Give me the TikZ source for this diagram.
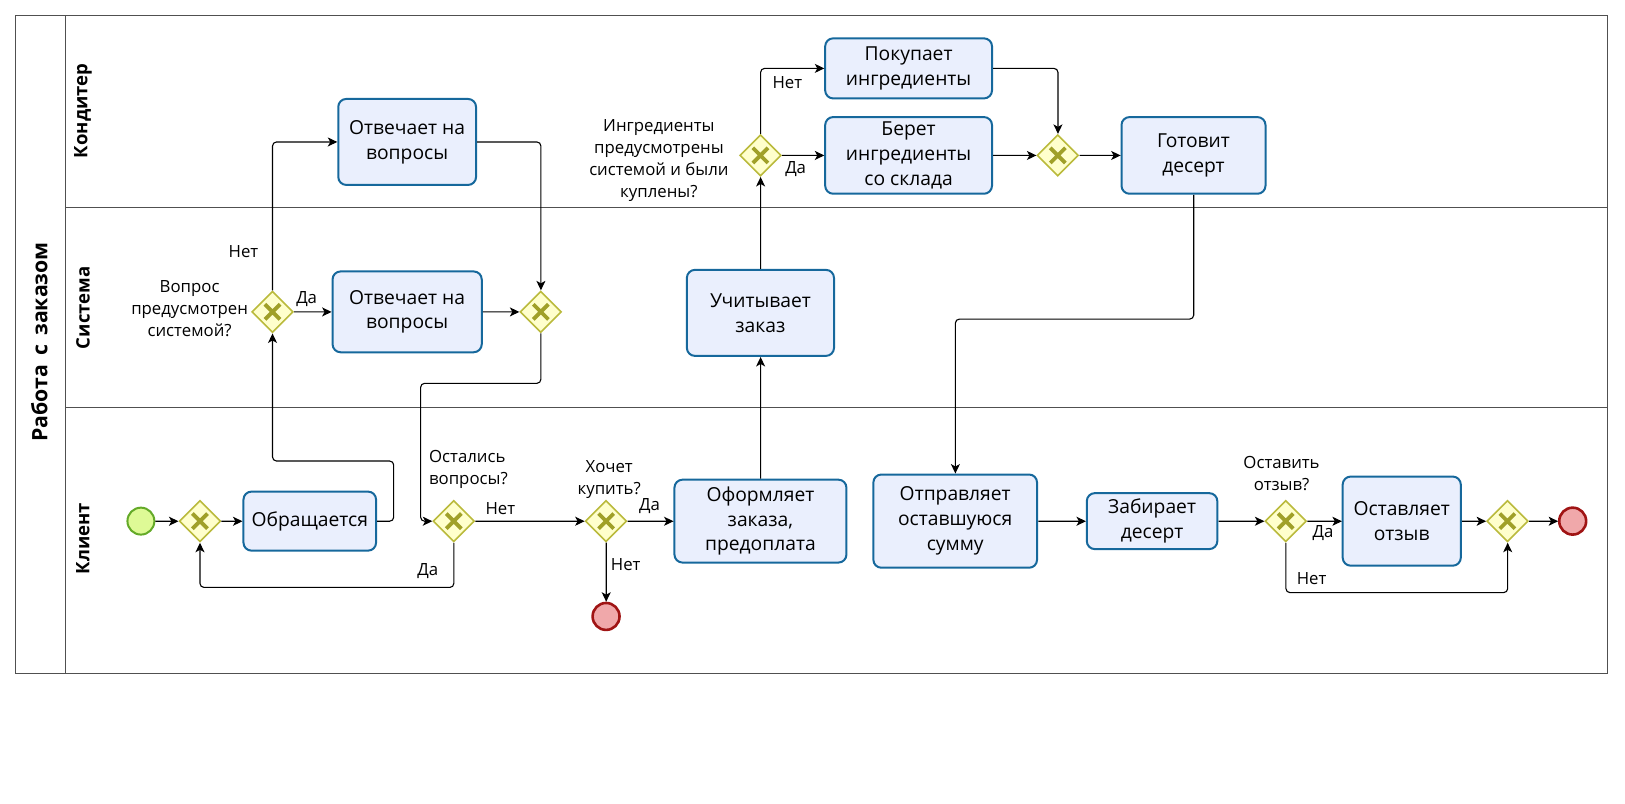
\documentclass[tikz,border=0pt]{standalone}
\usepackage{fontspec}
\setmainfont{Open Sans}
\usetikzlibrary{shapes.geometric,arrows.meta,calc}
\definecolor{taskfill}{RGB}{234,239,253}
\definecolor{taskdraw}{RGB}{22,104,156}
\definecolor{gwfill}{RGB}{255,255,204}
\definecolor{gwdraw}{RGB}{186,186,60}
\definecolor{gwx}{RGB}{160,160,40}
\definecolor{stfill}{RGB}{222,250,150}
\definecolor{stdraw}{RGB}{100,170,40}
\definecolor{enfill}{RGB}{240,168,170}
\definecolor{endraw}{RGB}{160,20,20}
\definecolor{lanecol}{RGB}{80,80,80}
\begin{document}
\begin{tikzpicture}[x=1pt,y=-1pt,scale=1.036,
  every node/.append style={transform shape},
  task/.style={draw=taskdraw, fill=taskfill, line width=2pt, rounded corners=8pt, align=center,
    font=\fontsize{18.6}{24}\selectfont, inner sep=2pt},
  gw/.style={diamond, draw=gwdraw, fill=gwfill, line width=1.6pt, minimum width=40pt, minimum height=40pt, inner sep=0pt,
    path picture={\draw[draw=gwx,line width=3.8pt]
      ([shift={(-7.3pt,-7.3pt)}]path picture bounding box.center) -- ([shift={(7.3pt,7.3pt)}]path picture bounding box.center)
      ([shift={(-7.3pt,7.3pt)}]path picture bounding box.center) -- ([shift={(7.3pt,-7.3pt)}]path picture bounding box.center);}},
  startev/.style={circle, draw=stdraw, fill=stfill, line width=2pt, minimum size=26pt, inner sep=0pt},
  endev/.style={circle, draw=endraw, fill=enfill, line width=2.6pt, minimum size=26pt, inner sep=0pt},
  flow/.style={draw=black, line width=1.1pt, rounded corners=4pt, -{Stealth[length=9.5pt,width=9pt,inset=2.5pt]}},
  lbl/.style={font=\fontsize{16.2}{21}\selectfont, align=center, inner sep=1pt},
  lane/.style={draw=lanecol, line width=1.1pt},
  lanelbl/.style={rotate=90, font=\fontsize{17.9}{22}\selectfont\bfseries}
]
\useasboundingbox (0,0) rectangle (1568.5,775.1);
% pool and lanes
\draw[lane] (15,15) rectangle (1552,650);
\draw[lane] (63,15) -- (63,650);
\draw[lane] (63,200) -- (1552,200);
\draw[lane] (63,393) -- (1552,393);
\node[rotate=90, font=\fontsize{20.5}{24}\selectfont\bfseries] (pool) at (38,330) {Работа\, с\, заказом};
\node[lanelbl] (l1) at (80,107) {Кондитер};
\node[lanelbl] (l2) at (80,297) {Система};
\node[lanelbl] (l3) at (80,520) {Клиент};

% client lane
\node[startev] (st) at (136,503) {};
\node[gw] (g1) at (193,503) {};
\node[task, minimum width=128pt, minimum height=57pt] (obr) at (299,503) {Обращается};
\node[gw] (g2) at (438,503) {};
\node[gw] (g3) at (585,503) {};
\node[endev] (e1) at (585,595) {};
\node[task, minimum width=166pt, minimum height=80pt] (ofo) at (734,503) {Оформляет\\заказа,\\предоплата};
\node[task, minimum width=158pt, minimum height=90pt] (otp) at (922,503) {Отправляет\\оставшуюся\\сумму};
\node[task, minimum width=126pt, minimum height=54pt] (zab) at (1112,503) {Забирает\\десерт};
\node[gw] (g6) at (1241,503) {};
\node[task, minimum width=114pt, minimum height=86pt] (ost) at (1353,503) {Оставляет\\отзыв};
\node[gw] (g7) at (1455,503) {};
\node[endev] (e2) at (1518,503) {};

% system lane
\node[gw] (gs1) at (263,301) {};
\node[task, minimum width=144pt, minimum height=78pt] (sq) at (393,301) {Отвечает на\\вопросы};
\node[gw] (gs2) at (522,301) {};
\node[task, minimum width=142pt, minimum height=83pt] (uch) at (734,302) {Учитывает\\заказ};

% confectioner lane
\node[task, minimum width=133pt, minimum height=83pt] (kq) at (393,137) {Отвечает на\\вопросы};
\node[gw] (g4) at (734,150) {};
\node[task, minimum width=161pt, minimum height=58pt] (pok) at (877,66) {Покупает\\ингредиенты};
\node[task, minimum width=161pt, minimum height=74pt] (ber) at (877,150) {Берет\\ингредиенты\\со склада};
\node[gw] (g5) at (1021,150) {};
\node[task, minimum width=139pt, minimum height=74pt] (got) at (1152,150) {Готовит\\десерт};

% flows
\draw[flow] (st) -- (g1);
\draw[flow] (g1) -- (obr);
\draw[flow] (obr.east) -| (380,445) -| (gs1.south);
\draw[flow] (gs1.north) |- (kq.west);
\draw[flow] (gs1) -- (sq);
\draw[flow] (sq) -- (gs2);
\draw[flow] (kq.east) -| (gs2.north);
\draw[flow] (gs2.south) |- (406,370) |- (g2.west);
\draw[flow] (g2.south) |- (300,567) -| (g1.south);
\draw[flow] (g2) -- (g3);
\draw[flow] (g3) -- (ofo);
\draw[flow] (g3) -- (e1);
\draw[flow] (ofo) -- (uch);
\draw[flow] (uch) -- (g4);
\draw[flow] (g4.north) |- (pok.west);
\draw[flow] (g4) -- (ber);
\draw[flow] (pok.east) -| (g5.north);
\draw[flow] (ber) -- (g5);
\draw[flow] (g5) -- (got);
\draw[flow] (got.south) |- (1000,308) -| (otp.north);
\draw[flow] (otp) -- (zab);
\draw[flow] (zab) -- (g6);
\draw[flow] (g6) -- (ost);
\draw[flow] (g6.south) |- (1350,572) -| (g7.south);
\draw[flow] (ost) -- (g7);
\draw[flow] (g7) -- (e2);

% labels
\node[lbl] (t1) at (235,243) {Нет};
\node[lbl] (t2) at (296,289) {Да};
\node[lbl] (t3) at (183,298) {Вопрос\\предусмотрен\\системой?};
\node[lbl, anchor=west, align=left] (t4) at (413,453) {Остались\\вопросы?};
\node[lbl] (t5) at (483,491) {Нет};
\node[lbl] (t6) at (413,551) {Да};
\node[lbl] (t7) at (588,463) {Хочет\\купить?};
\node[lbl] (t8) at (627,488) {Да};
\node[lbl] (t9) at (604,545) {Нет};
\node[lbl] (t10) at (636,155) {Ингредиенты\\предусмотрены\\системой и были\\куплены?};
\node[lbl] (t11) at (760,80) {Нет};
\node[lbl] (t12) at (768,163) {Да};
\node[lbl] (t13) at (1237,457) {Оставить\\отзыв?};
\node[lbl] (t14) at (1277,515) {Да};
\node[lbl] (t15) at (1266,558) {Нет};
\end{tikzpicture}
\end{document}
